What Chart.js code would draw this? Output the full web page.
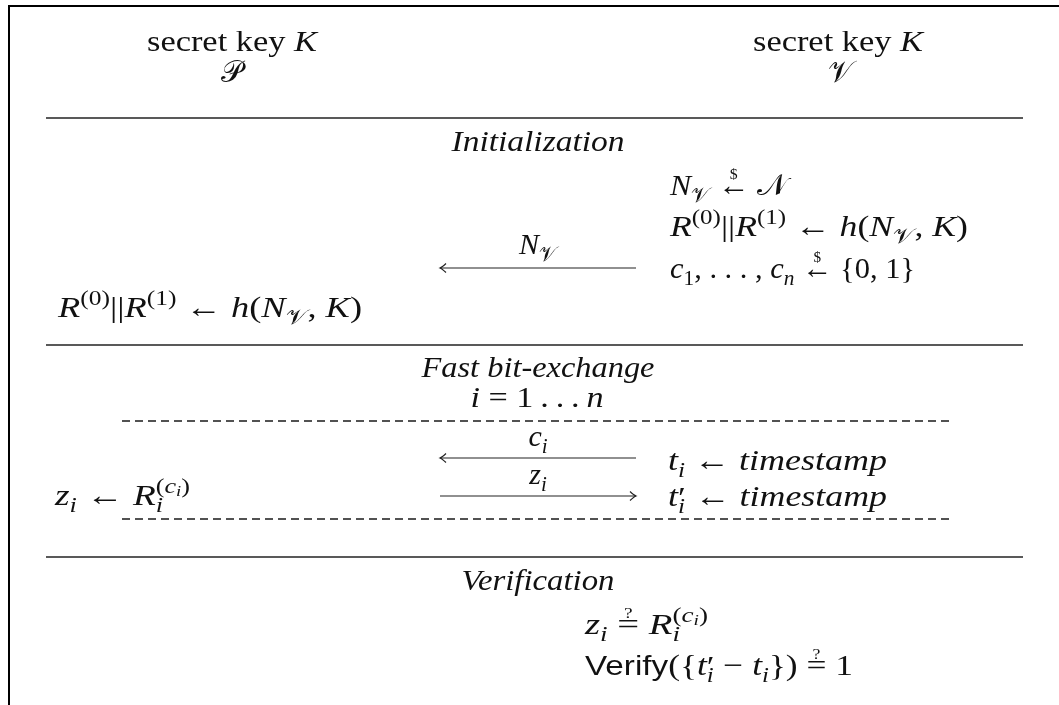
<!DOCTYPE html>
<html>
<head>
<meta charset="utf-8">
<script src="https://cdn.jsdelivr.net/npm/chart.js@4.4.0/dist/chart.umd.min.js"></script>
<style>
  html, body { margin: 0; padding: 0; background: #fff; }
  #wrap { width: 1059px; height: 705px; }
</style>
</head>
<body>
<div id="wrap"><canvas id="proto" width="1059" height="705"></canvas></div>
<script>
// Distance-bounding protocol sketch, drawn on a hidden linear x/y pair of scales.
// Values are in page units (0..1059 across, 0..705 down).

const W = 1059;
const H = 705;

// frame + separators
const frameX = [9, 9, 1059];
const frameY = [705, 6, 6];
const ruleX = [46, 1023];
const ruleY = [118, 345, 557];
const loopX = [122, 953];
const loopY = [421, 519];

// messages: shaft from -> to, at height y
const msgFrom = [636, 636, 440];
const msgTo = [440, 440, 636];
const msgY = [268, 458, 496];
const msgLabelY = [254, 446, 484];
const msgLabelX = 538;

// rich text pieces
const R = (t) => ({ t, f: "r" });
const I = (t) => ({ t, f: "i" });
const C = (t) => ({ t, f: "c" });
const S = (t) => ({ t, f: "s" });
const sub = (p) => Object.assign({}, p, { s: 0.7, dy: 0.22 });
const sup = (p) => Object.assign({}, p, { s: 0.7, dy: -0.4 });
const subsub = (p) => Object.assign({}, p, { s: 0.5, dy: -0.3 });
const prime = () => ({ t: "\u2032", f: "r", s: 1, dy: 0.02, mark: true });
const rel = (t, top) => ({ t, f: "r", over: top, kl: 0.25, kr: 0.25 });
const mark = (p) => Object.assign({}, p, { mark: true });
const back = (p) => Object.assign({}, p, { back: true });

const secretKey = [R("secret key "), I("K")];
const prover = [C("P")];
const verifier = [C("V")];
const initTitle = [I("Initialization")];
const nvPick = [I("N"), sub(C("V")), rel("\u2190", "$"), C("N")];
const hLine = [I("R"), sup(R("(0)")), R("||"), I("R"), sup(R("(1)")), rel("\u2190"),
  I("h"), R("("), I("N"), sub(C("V")), R(", "), I("K"), R(")")];
const cPick = [I("c"), sub(R("1")), R(", . . . , "), I("c"), sub(I("n")), rel("\u2190", "$"), R("{0, 1}")];
const fastTitle = [I("Fast bit-exchange")];
const loopLine = [I("i"), rel("="), R("1\u2009.\u2009.\u2009.\u2009"), I("n")];
const tStamp = [I("t"), sub(I("i")), rel("\u2190"), I("timestamp")];
const tpStamp = [I("t"), prime(), back(sub(I("i"))), rel("\u2190"), I("timestamp")];
const Rci = [I("R"), mark(sup(R("("))), sup(I("c")), subsub(I("i")), sup(R(")")), back(sub(I("i")))];
const zResp = [I("z"), sub(I("i")), rel("\u2190")].concat(Rci);
const verTitle = [I("Verification")];
const zCheck = [I("z"), sub(I("i")), rel("=", "?")].concat(Rci);
const verify = [S("Verify"), R("({"), I("t"), prime(), back(sub(I("i"))), rel("\u2212"),
  I("t"), sub(I("i")), R("})"), rel("=", "?"), R("1")];
const msgLabels = [[I("N"), sub(C("V"))], [I("c"), sub(I("i"))], [I("z"), sub(I("i"))]];

// where each text row sits: [text, x, baseline y, align, width]
const rows = [
  [secretKey, 232, 51, "center", 170],
  [prover, 232, 82, "center", 0],
  [secretKey, 838, 51, "center", 170],
  [verifier, 840, 82, "center", 0],
  [initTitle, 538, 151, "center", 173],
  [nvPick, 670, 195, "left", 118],
  [hLine, 670, 236, "left", 298],
  [cPick, 670, 278, "left", 245],
  [hLine, 58, 317, "left", 304],
  [fastTitle, 538, 377, "center", 233],
  [loopLine, 537, 407, "center", 133],
  [tStamp, 668, 470, "left", 219],
  [tpStamp, 668, 506, "left", 219],
  [zResp, 55, 505, "left", 135],
  [verTitle, 538, 590, "center", 153],
  [zCheck, 585, 634, "left", 123],
  [verify, 585, 675, "left", 268],
];

const FS = 30;
const INK = "#111";
const SERIF = '"Liberation Serif", "Times New Roman", Tinos, "Nimbus Roman", serif';
const SANS = '"Liberation Sans", Arial, Arimo, "DejaVu Sans", sans-serif';
const CAL = { P: "\u{1D4AB}", V: "\u{1D4B1}", N: "\u{1D4A9}" };
let calOk = null;

function fontFor(seg, px) {
  if (seg.f === "i") return "italic " + px + "px " + SERIF;
  if (seg.f === "s") return px * 0.94 + "px " + SANS;
  if (seg.f === "c") return calOk ? px + 'px "DejaVu Sans", "Noto Sans", serif' : "italic " + px + "px " + SERIF;
  return px + "px " + SERIF;
}

function checkCal(ctx) {
  if (calOk !== null) return;
  ctx.font = '40px "DejaVu Sans", "Noto Sans", serif';
  const a = ctx.measureText(CAL.P).width;
  const b = ctx.measureText("\u{10FFFD}").width;
  calOk = a > 0 && Math.abs(a - b) > 0.5;
}

function drawRich(ctx, segs, x, y, align, targetW) {
  const items = [];
  let cur = 0, mk = 0;
  for (const s of segs) {
    const px = FS * (s.s || 1);
    const font = fontFor(s, px);
    const text = s.f === "c" && calOk ? (CAL[s.t] || s.t) : s.t;
    ctx.font = font;
    const w = ctx.measureText(text).width;
    if (s.mark) mk = cur;
    const sx = (s.back ? mk : cur) + (s.kl || 0) * FS;
    items.push({ text, font, x: sx, dy: (s.dy || 0) * FS, w, over: s.over });
    const end = sx + w + (s.kr || 0) * FS;
    cur = s.back ? Math.max(cur, end) : end;
  }
  const outW = targetW || cur;
  const sc = outW / cur;
  const x0 = align === "center" ? x - outW / 2 : x;
  ctx.save();
  ctx.translate(x0, y);
  ctx.scale(sc, 1);
  ctx.fillStyle = INK;
  ctx.textBaseline = "alphabetic";
  for (const it of items) {
    ctx.textAlign = "left";
    ctx.font = it.font;
    ctx.fillText(it.text, it.x, it.dy);
    if (it.over) {
      ctx.font = FS * 0.5 + "px " + SERIF;
      ctx.textAlign = "center";
      ctx.fillText(it.over, it.x + it.w / 2, it.dy - FS * 0.52);
    }
  }
  ctx.restore();
}

const textPlugin = {
  id: "protoText",
  afterDatasetsDraw(chart) {
    const ctx = chart.ctx;
    const xs = chart.scales.x, ys = chart.scales.y;
    checkCal(ctx);
    for (const r of rows) {
      drawRich(ctx, r[0], xs.getPixelForValue(r[1]), ys.getPixelForValue(r[2]), r[3], r[4]);
    }
    msgLabels.forEach((lab, i) => {
      drawRich(ctx, lab, xs.getPixelForValue(msgLabelX), ys.getPixelForValue(msgLabelY[i]), "center", 0);
    });
    // hooked arrow tips at the message ends
    ctx.save();
    ctx.strokeStyle = "#222";
    ctx.lineWidth = 1.2;
    msgTo.forEach((tx, i) => {
      const px = xs.getPixelForValue(tx), py = ys.getPixelForValue(msgY[i]);
      const dir = msgFrom[i] > tx ? 1 : -1;
      ctx.beginPath();
      ctx.moveTo(px + dir * 6, py - 4.5);
      ctx.quadraticCurveTo(px + dir * 2, py - 0.8, px, py);
      ctx.quadraticCurveTo(px + dir * 2, py + 0.8, px + dir * 6, py + 4.5);
      ctx.stroke();
    });
    ctx.restore();
  },
};

const seg = (x1, y1, x2, y2) => [{ x: x1, y: y1 }, { x: x2, y: y2 }];
const datasets = [];
datasets.push({ data: frameX.map((x, i) => ({ x, y: frameY[i] })), borderColor: "#000", borderWidth: 2 });
for (const y of ruleY) {
  datasets.push({ data: seg(ruleX[0], y, ruleX[1], y), borderColor: "#222", borderWidth: 1.4 });
}
for (const y of loopY) {
  datasets.push({ data: seg(loopX[0], y, loopX[1], y), borderColor: "#1a1a1a", borderWidth: 1.5, borderDash: [8, 5] });
}
msgY.forEach((y, i) => {
  datasets.push({ data: seg(msgFrom[i], y, msgTo[i], y), borderColor: "#222", borderWidth: 1.2 });
});
for (const d of datasets) {
  d.showLine = true;
  d.pointRadius = 0;
  d.fill = false;
  d.tension = 0;
}

new Chart(document.getElementById("proto"), {
  type: "scatter",
  data: { datasets },
  options: {
    responsive: false,
    animation: false,
    layout: { padding: 0 },
    events: [],
    scales: {
      x: { type: "linear", min: 0, max: W, display: false },
      y: { type: "linear", min: 0, max: H, reverse: true, display: false },
    },
    plugins: { legend: { display: false }, tooltip: { enabled: false } },
  },
  plugins: [textPlugin],
});
</script>
</body>
</html>
